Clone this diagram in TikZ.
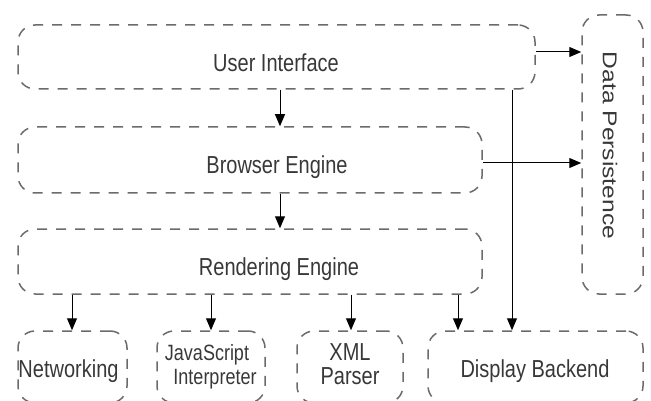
\documentclass[tikz,border=0pt]{standalone}
\usepackage{fontspec}
\setmainfont{Liberation Sans}
\usepackage{graphicx}
\usetikzlibrary{arrows.meta}
\newcommand{\vsc}[1]{\scalebox{1}[1.23]{#1}}
\begin{document}
\begin{tikzpicture}[x=1pt,y=-1pt,
  box/.style={draw=black!58, line width=1.5pt, dash pattern=on 10pt off 9pt, rounded corners=17pt, inner sep=0pt},
  lbl/.style={text=black!78, font=\fontsize{20}{20.3}\selectfont, inner sep=0pt, anchor=base},
  arr/.style={-{Triangle[length=12pt,width=10pt]}, line width=1pt, black}]
\useasboundingbox (0,0) rectangle (651,401);
% boxes
\node[box, minimum width=517pt, minimum height=64pt] (ui) at (276.5,57) {};
\node[box, minimum width=464pt, minimum height=66pt] (be) at (250,160) {};
\node[box, minimum width=464pt, minimum height=65pt] (re) at (250,261.5) {};
\node[box, minimum width=109pt, minimum height=72pt] (net) at (72.5,367) {};
\node[box, minimum width=108pt, minimum height=72pt] (js) at (211,367) {};
\node[box, minimum width=106pt, minimum height=72pt] (xml) at (350,367) {};
\node[box, minimum width=215pt, minimum height=72pt] (db) at (535.5,367) {};
\node[box, minimum width=61pt, minimum height=279pt] (dp) at (612.5,154.5) {};
% labels
\node[lbl] (uiL) at (276,72) {\vsc{User Interface}};
\node[lbl] (beL) at (277,173.5) {\vsc{Browser Engine}};
\node[lbl] (reL) at (279,275) {\vsc{Rendering Engine}};
\node[lbl] (netL) at (68.5,377) {\vsc{Networking}};
\node[lbl, font=\fontsize{18}{20.3}\selectfont] (jsL) at (207,360) {\vsc{\begin{tabular}[t]{@{}c@{}}JavaScript\\\hspace*{16pt}Interpreter\end{tabular}}};
\node[lbl] (xmlL) at (350,360) {\vsc{\begin{tabular}[t]{@{}c@{}}XML\\Parser\end{tabular}}};
\node[lbl] (dbL) at (535,377) {\vsc{Display Backend}};
\node[lbl, anchor=center, rotate=-90] (dpL) at (610,145.5) {\scalebox{1.23}[1]{Data Persistence}};
% arrow positions
\coordinate (a1) at (280,0);
\coordinate (a2) at (72,0);
\coordinate (a3) at (211,0);
\coordinate (a4) at (351,0);
\coordinate (a5) at (458,0);
\coordinate (a6) at (512,0);
\coordinate (h1) at (0,52);
\coordinate (h2) at (0,163);
% connectors
\draw[arr] (ui.south -| a1) -- (be.north -| a1);
\draw[arr] (be.south -| a1) -- (re.north -| a1);
\draw[arr] (re.south -| a2) -- (net.north -| a2);
\draw[arr] (re.south -| a3) -- (js.north -| a3);
\draw[arr] (re.south -| a4) -- (xml.north -| a4);
\draw[arr] (re.south -| a5) -- (db.north -| a5);
\draw[arr] (ui.south -| a6) -- (db.north -| a6);
\draw[arr] (ui.east |- h1) -- (dp.west |- h1);
\draw[arr] (be.east |- h2) -- (dp.west |- h2);
\end{tikzpicture}
\end{document}
